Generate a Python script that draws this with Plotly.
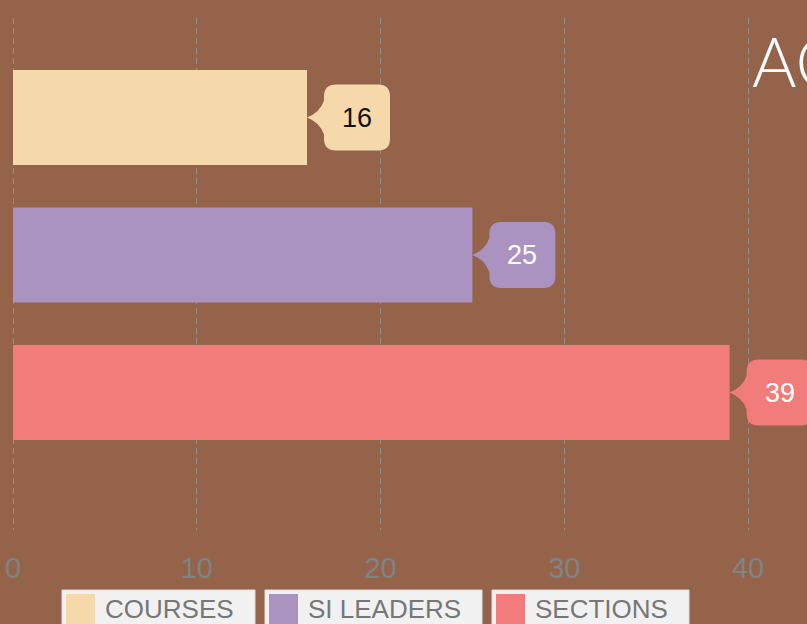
import plotly.graph_objects as go

# ---- data ----
categories = ["COURSES", "SI LEADERS", "SECTIONS"]
values = [16, 25, 39]
bar_colors = ["#F5D9AB", "#AA93C1", "#F27B7B"]
label_colors = ["#111111", "#FFFFFF", "#FFFFFF"]
tick_values = [0, 10, 20, 30, 40]
title_text = "ACADEMIC SUPPORT"

W, H = 807, 624
ML, MR, MT, MB = 10, 0, 18, 94
PW, PH = W - ML - MR, H - MT - MB
BG = "#95634A"
X_PER_PX = 1 / 18.375
X0 = -3 * X_PER_PX   # zero sits 3px inside the plot area (pixel 13)

def px_x(px):
    return (px - ML) / PW

def px_y(py):
    return (H - MB - py) / PH

fig = go.Figure()
fig.add_trace(go.Bar(
    x=values, y=categories, orientation="h",
    marker=dict(color=bar_colors, line=dict(width=0)),
    width=0.69, showlegend=False, hoverinfo="x+y",
))

# callout label bubbles (pixel-sized, anchored at bar end)
bubble = ("M 0,0 Q 13,-5 17,-17 L 17,-21 Q 17,-33 29,-33 L 71,-33 "
          "Q 83,-33 83,-21 L 83,21 Q 83,33 71,33 L 29,33 Q 17,33 17,21 "
          "L 17,17 Q 13,5 0,0 Z")
shapes = []
annotations = []
for cat, val, col, lc in zip(categories, values, bar_colors, label_colors):
    shapes.append(dict(type="path", xref="x", yref="y",
                       xsizemode="pixel", ysizemode="pixel",
                       xanchor=val, yanchor=cat, path=bubble,
                       fillcolor=col, line=dict(width=0), layer="above"))
    annotations.append(dict(x=val, y=cat, xref="x", yref="y", text=str(val),
                            showarrow=False, xshift=50, xanchor="center",
                            yanchor="middle",
                            font=dict(family="Liberation Sans, Arial", size=27, color=lc)))

# legend boxes drawn as separate tiles
leg_boxes = [(62, 255), (265, 482), (492, 689)]
for (x0, x1), cat, col in zip(leg_boxes, categories, bar_colors):
    shapes.append(dict(type="rect", xref="paper", yref="paper",
                       x0=px_x(x0), x1=px_x(x1), y0=px_y(640), y1=px_y(590),
                       fillcolor="#F1F1F1", line=dict(color="#DDDDDD", width=1),
                       layer="above"))
    shapes.append(dict(type="rect", xref="paper", yref="paper",
                       x0=px_x(x0 + 4), x1=px_x(x0 + 33), y0=px_y(640), y1=px_y(594),
                       fillcolor=col, line=dict(width=0), layer="above"))
    annotations.append(dict(x=px_x(x0 + 41), y=px_y(609), xref="paper", yref="paper",
                            text=cat, showarrow=False, xanchor="left", yanchor="middle",
                            font=dict(family="Liberation Sans, Arial", size=26, color="#777777")))

# title (runs off the right edge as in the reference)
annotations.append(dict(x=px_x(750), y=px_y(60), xref="paper", yref="paper",
                        text=title_text, showarrow=False, xanchor="left", yanchor="middle",
                        font=dict(family="Lato, Open Sans", size=68, color="#FFFFFF", weight=300)))

fig.update_layout(
    width=W, height=H,
    margin=dict(l=ML, r=MR, t=MT, b=MB, pad=0),
    paper_bgcolor=BG, plot_bgcolor=BG,
    shapes=shapes, annotations=annotations,
    xaxis=dict(range=[X0, X0 + PW * X_PER_PX], tickvals=tick_values,
               showgrid=True, gridcolor="#8E9090", gridwidth=1.2, griddash="6px,4px",
               zeroline=False, showline=False,
               ticks="outside", ticklen=12, tickcolor="rgba(0,0,0,0)",
               tickfont=dict(family="Liberation Sans, Arial", size=29, color="#7F8486")),
    yaxis=dict(categoryorder="array", categoryarray=categories,
               range=[3.0, -0.724], showticklabels=False, showgrid=False,
               zeroline=False, showline=False),
)

fig.write_html("out.html", config={"displayModeBar": False},
               post_script="document.body.style.margin='0';document.body.style.overflow='hidden';")
